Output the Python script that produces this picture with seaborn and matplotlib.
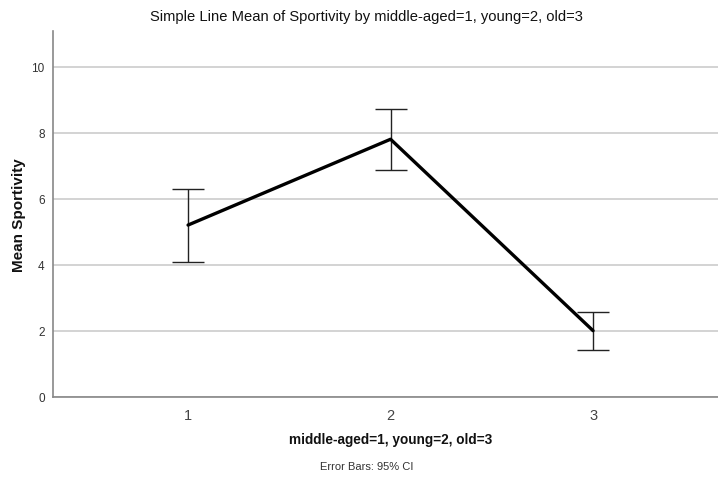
import matplotlib
matplotlib.use("Agg")
import matplotlib.pyplot as plt
import seaborn as sns
import pandas as pd
import numpy as np

groups = [1, 2, 3]
means = [5.21, 7.81, 2.01]
ci_low = [4.10, 6.88, 1.42]
ci_high = [6.30, 8.74, 2.59]
yticks = [0, 2, 4, 6, 8, 10]

sns.set_theme(style="white")
plt.rcParams['font.family'] = ['Liberation Sans', 'DejaVu Sans']

df = pd.DataFrame({"group": groups, "mean": means})

fig = plt.figure(figsize=(7.18, 4.81), dpi=100)
ax = fig.add_axes([53/718, 83/481, 665/718, 366/481])

sns.lineplot(data=df, x="group", y="mean", ax=ax, color="black", linewidth=2.4, zorder=3)
yerr = np.array([np.array(means) - np.array(ci_low), np.array(ci_high) - np.array(means)])
ax.errorbar(groups, means, yerr=yerr, fmt="none", ecolor="#222222", elinewidth=1.0,
            capsize=11.5, capthick=1.0, zorder=2)

ax.set_xlim(0.333, 3.617)
ax.set_ylim(0, 11.09)
ax.set_yticks(yticks)
ax.set_xticks(groups)
ax.set_xticklabels([str(g) for g in groups])
ax.yaxis.grid(True, color="#c8c8c8", linewidth=1.1)
ax.set_axisbelow(True)
for s in ["top", "right"]:
    ax.spines[s].set_visible(False)
for s in ["left", "bottom"]:
    ax.spines[s].set_color("#888888")
    ax.spines[s].set_linewidth(1.2)
ax.tick_params(axis="y", length=0, pad=6, labelsize=8.5, labelcolor="#333333")
ax.tick_params(axis="x", length=0, pad=8, labelsize=10.5, labelcolor="#444444")
ax.set_xlabel("")
ax.set_ylabel("")

fig.text(19/718, 1 - 215/481, "Mean Sportivity", rotation=90, ha="center", va="center",
         fontsize=11, fontweight="bold", color="#111111")
fig.text(391/718, 1 - 440/481, "middle-aged=1, young=2, old=3", ha="center", va="center",
         fontsize=9.8, fontweight="bold", color="#111111")
fig.text(367/718, 1 - 467/481, "Error Bars: 95% CI", ha="center", va="center",
         fontsize=8, color="#333333")
fig.text(366/718, 1 - 17/481, "Simple Line Mean of Sportivity by middle-aged=1, young=2, old=3",
         ha="center", va="center", fontsize=10.6, color="#111111")

fig.savefig("out.png", dpi=100)
